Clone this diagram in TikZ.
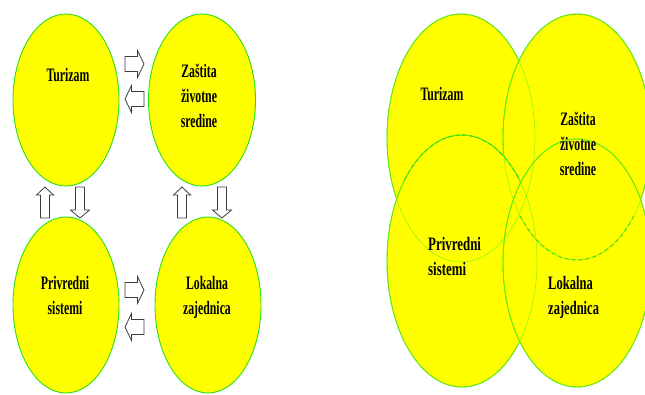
\documentclass[tikz,border=0pt]{standalone}
\usepackage{fontspec}
\usepackage{graphicx}
\setmainfont{Liberation Serif}
\usetikzlibrary{shapes.geometric}
\definecolor{vyellow}{RGB}{255,255,0}
\definecolor{vgreen}{RGB}{40,225,20}
\definecolor{arrowline}{RGB}{60,60,60}
\tikzset{
  bubble/.style={ellipse, fill=vyellow, draw=vgreen, line width=0.9pt, inner sep=0pt},
  lbl/.style={font=\fontsize{19}{25}\selectfont\bfseries, inner sep=0pt, text=black},
  faint/.style={draw=vgreen!55!vyellow, line width=0.5pt},
  dashline/.style={draw=vgreen, line width=0.9pt, dash pattern=on 4pt off 3pt},
  arrowbox/.style={fill=white, draw=arrowline, line width=0.8pt, line join=miter},
  pics/barrow/.style n args={4}{code={%
    \draw[arrowbox] ({-#1/2},{-#2}) -- ({#1/2-#4},{-#2}) -- ({#1/2-#4},{-#3}) -- ({#1/2},0)
      -- ({#1/2-#4},{#3}) -- ({#1/2-#4},{#2}) -- ({-#1/2},{#2}) -- cycle;}}
}
\begin{document}
\begin{tikzpicture}[x=1pt, y=-1pt]
\useasboundingbox (0,0) rectangle (645,394);
\clip (0,0) rectangle (645,394);
% ---------- left panel ----------
\node[bubble, minimum width=106pt, minimum height=172pt] (tur) at (66,100) {};
\node[bubble, minimum width=107pt, minimum height=172pt] (zas) at (202,100) {};
\node[bubble, minimum width=106pt, minimum height=176pt] (pri) at (66,305) {};
\node[bubble, minimum width=106pt, minimum height=176pt] (lok) at (208,305) {};
\node[lbl] (turt) at (68,75) {\scalebox{0.62}[1]{Turizam}};
\node[lbl] (zast) at (199,97) {\scalebox{0.62}[1]{\begin{tabular}{@{}c@{}}Zaštita\\životne\\sredine\end{tabular}}};
\node[lbl] (prit) at (65,297) {\scalebox{0.62}[1]{\begin{tabular}{@{}c@{}}Privredni\\sistemi\end{tabular}}};
\node[lbl] (lokt) at (207,297) {\scalebox{0.62}[1]{\begin{tabular}{@{}c@{}}Lokalna\\zajednica\end{tabular}}};
% block arrows
\pic at (134.5,64) {barrow={19}{7.5}{13.5}{6.5}};
\pic[rotate=180] at (134.5,99) {barrow={19}{7.5}{13.5}{6.5}};
\pic at (134.5,290) {barrow={19}{7.5}{13.5}{6.5}};
\pic[rotate=180] at (134.5,327) {barrow={19}{7.5}{13.5}{6.5}};
\pic[rotate=90] at (45,202.5) {barrow={31}{4.5}{8.5}{8}};
\pic[rotate=-90] at (80,202.5) {barrow={31}{4.5}{9.5}{8}};
\pic[rotate=90] at (182,202.5) {barrow={31}{4.5}{8.5}{8}};
\pic[rotate=-90] at (222,202.5) {barrow={31}{4.5}{9.5}{8}};
% ---------- right panel ----------
\node[bubble, minimum width=148pt, minimum height=248pt] (vtur) at (461,138) {};
\node[bubble, minimum width=148pt, minimum height=246pt] (vzas) at (577,137) {};
\node[bubble, minimum width=150pt, minimum height=252pt] (vpri) at (462,261) {};
\node[bubble, minimum width=148pt, minimum height=248pt] (vlok) at (577,263) {};
\draw[faint] (vtur.center) ellipse [x radius=74, y radius=124];
\draw[faint] (vzas.center) ellipse [x radius=74, y radius=123];
\draw[faint] (vpri.center) ellipse [x radius=75, y radius=126];
\draw[faint] (vlok.center) ellipse [x radius=74, y radius=124];
\draw[dashline] (vpri.center) ++(220:75 and 126) arc [start angle=220, end angle=320, x radius=75, y radius=126];
\draw[dashline] (vzas.center) ++(140:74 and 123) arc [start angle=140, end angle=40, x radius=74, y radius=123];
\node[lbl] (vturt) at (442,94) {\scalebox{0.62}[1]{Turizam}};
\node[lbl] (vzast) at (578,145) {\scalebox{0.62}[1]{\begin{tabular}{@{}c@{}}Zaštita\\životne\\sredine\end{tabular}}};
\node[lbl, anchor=west] (vprit) at (428,258) {\scalebox{0.68}[1]{\begin{tabular}{@{}l@{}}Privredni\\sistemi\end{tabular}}};
\node[lbl, anchor=west] (vlokt) at (548,297) {\scalebox{0.66}[1]{\begin{tabular}{@{}l@{}}Lokalna\\zajednica\end{tabular}}};
\end{tikzpicture}
\end{document}
